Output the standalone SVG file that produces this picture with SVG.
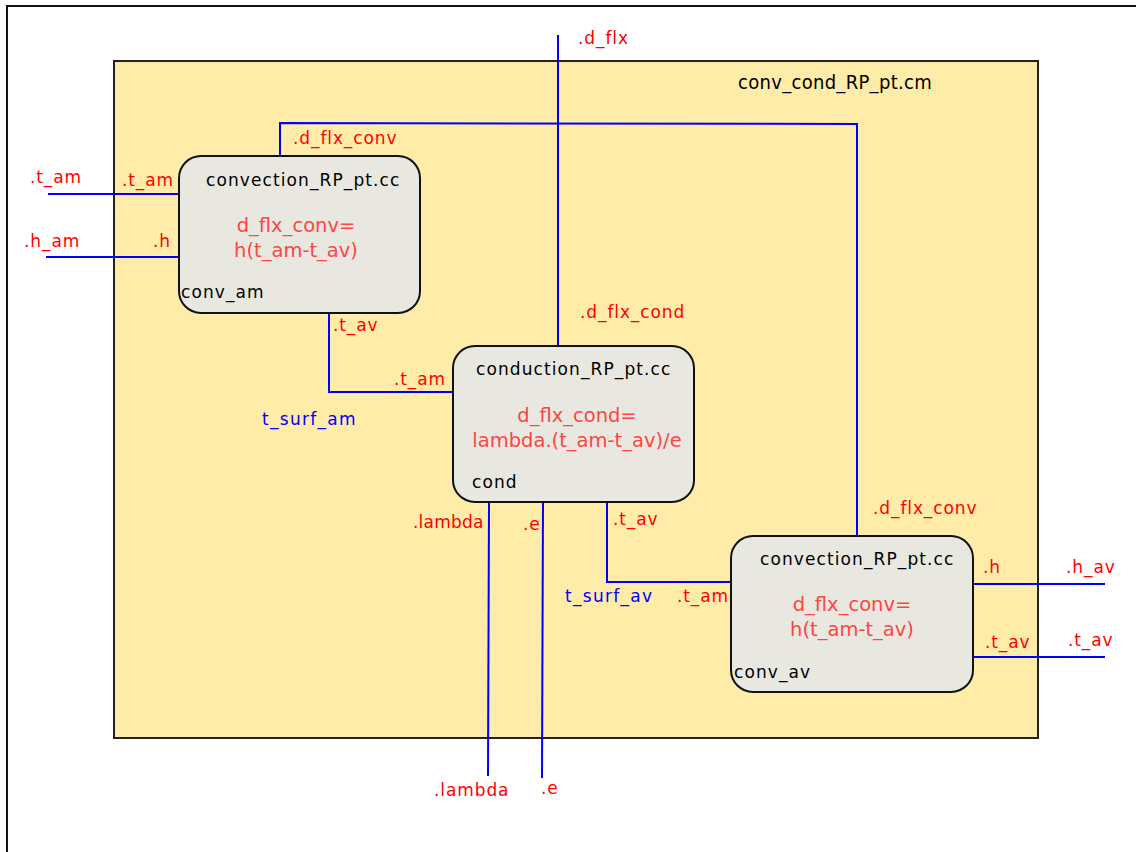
<svg xmlns="http://www.w3.org/2000/svg" width="1136" height="852" viewBox="0 0 1136 852">
<style>
.lbl{font-family:"DejaVu Sans","Liberation Sans",sans-serif;font-size:17px;letter-spacing:0.9px;fill:#ff0000}
.sig{font-family:"DejaVu Sans","Liberation Sans",sans-serif;font-size:17px;letter-spacing:1.3px;fill:#0000ff}
.ttl{font-family:"DejaVu Sans","Liberation Sans",sans-serif;font-size:17px;letter-spacing:1.1px;fill:#000}
.eq{font-family:"DejaVu Sans","Liberation Sans",sans-serif;font-size:19.5px;fill:#ff4444;text-anchor:middle}
.node{fill:#e9e8e0;stroke:#111;stroke-width:2}
.wire{fill:none;stroke:#0000ff;stroke-width:2}
</style>
<rect x="0" y="0" width="1136" height="852" fill="#fff"/>
<rect x="7" y="6" width="1140" height="860" fill="none" stroke="#111" stroke-width="2"/>
<g id="container">
<rect x="114" y="61" width="924" height="677" fill="#ffeca8" stroke="#222" stroke-width="2"/>
<text x="738" y="89" style="font-family:'DejaVu Sans Condensed','DejaVu Sans',sans-serif;font-size:20px;letter-spacing:0.3px;fill:#000">conv_cond_RP_pt.cm</text>
</g>
<g id="connectors">
<polyline class="wire" points="48,194 179,194"/>
<polyline class="wire" points="46,257 179,257"/>
<polyline class="wire" points="280,156 280,123 857,124 857,536"/>
<polyline class="wire" points="558,35 558,346"/>
<polyline class="wire" points="329,313 329,392 453,392"/>
<polyline class="wire" points="489,502 488,776"/>
<polyline class="wire" points="543,502 542,778"/>
<polyline class="wire" points="607,502 607,582 731,582"/>
<polyline class="wire" points="973,584 1105,584"/>
<polyline class="wire" points="973,657 1105,657"/>
</g>
<g id="conv_am">
<rect x="179" y="156" width="241" height="157" rx="22" class="node"/>
<text x="206" y="186" class="ttl">convection_RP_pt.cc</text>
<text x="296" y="232" class="eq">d_flx_conv=</text>
<text x="296" y="257" class="eq">h(t_am-t_av)</text>
<text x="181" y="298" class="ttl">conv_am</text>
</g>
<g id="cond">
<rect x="453" y="346" width="241" height="156" rx="22" class="node"/>
<text x="476" y="375" class="ttl">conduction_RP_pt.cc</text>
<text x="577" y="422" class="eq">d_flx_cond=</text>
<text x="577" y="447" class="eq">lambda.(t_am-t_av)/e</text>
<text x="472" y="488" class="ttl">cond</text>
</g>
<g id="conv_av">
<rect x="731" y="536" width="242" height="156" rx="22" class="node"/>
<text x="760" y="565" class="ttl">convection_RP_pt.cc</text>
<text x="852" y="611" class="eq">d_flx_conv=</text>
<text x="852" y="636" class="eq">h(t_am-t_av)</text>
<text x="734" y="678" class="ttl">conv_av</text>
</g>
<g id="labels">
<text x="30" y="183" class="lbl">.t_am</text>
<text x="24" y="247" class="lbl">.h_am</text>
<text x="122" y="186" class="lbl">.t_am</text>
<text x="153" y="247" class="lbl">.h</text>
<text x="293" y="144" class="lbl">.d_flx_conv</text>
<text x="333" y="331" class="lbl">.t_av</text>
<text x="578" y="44" class="lbl">.d_flx</text>
<text x="580" y="318" class="lbl">.d_flx_cond</text>
<text x="394" y="385" class="lbl">.t_am</text>
<text x="262" y="425" class="sig">t_surf_am</text>
<text x="413" y="528" class="lbl" style="letter-spacing:0.2px">.lambda</text>
<text x="523" y="530" class="lbl">.e</text>
<text x="613" y="525" class="lbl">.t_av</text>
<text x="873" y="514" class="lbl">.d_flx_conv</text>
<text x="983" y="573" class="lbl">.h</text>
<text x="1066" y="573" class="lbl">.h_av</text>
<text x="565" y="602" class="sig">t_surf_av</text>
<text x="677" y="602" class="lbl">.t_am</text>
<text x="985" y="648" class="lbl">.t_av</text>
<text x="1068" y="646" class="lbl">.t_av</text>
<text x="434" y="796" class="lbl">.lambda</text>
<text x="541" y="794" class="lbl">.e</text>
</g>
</svg>
